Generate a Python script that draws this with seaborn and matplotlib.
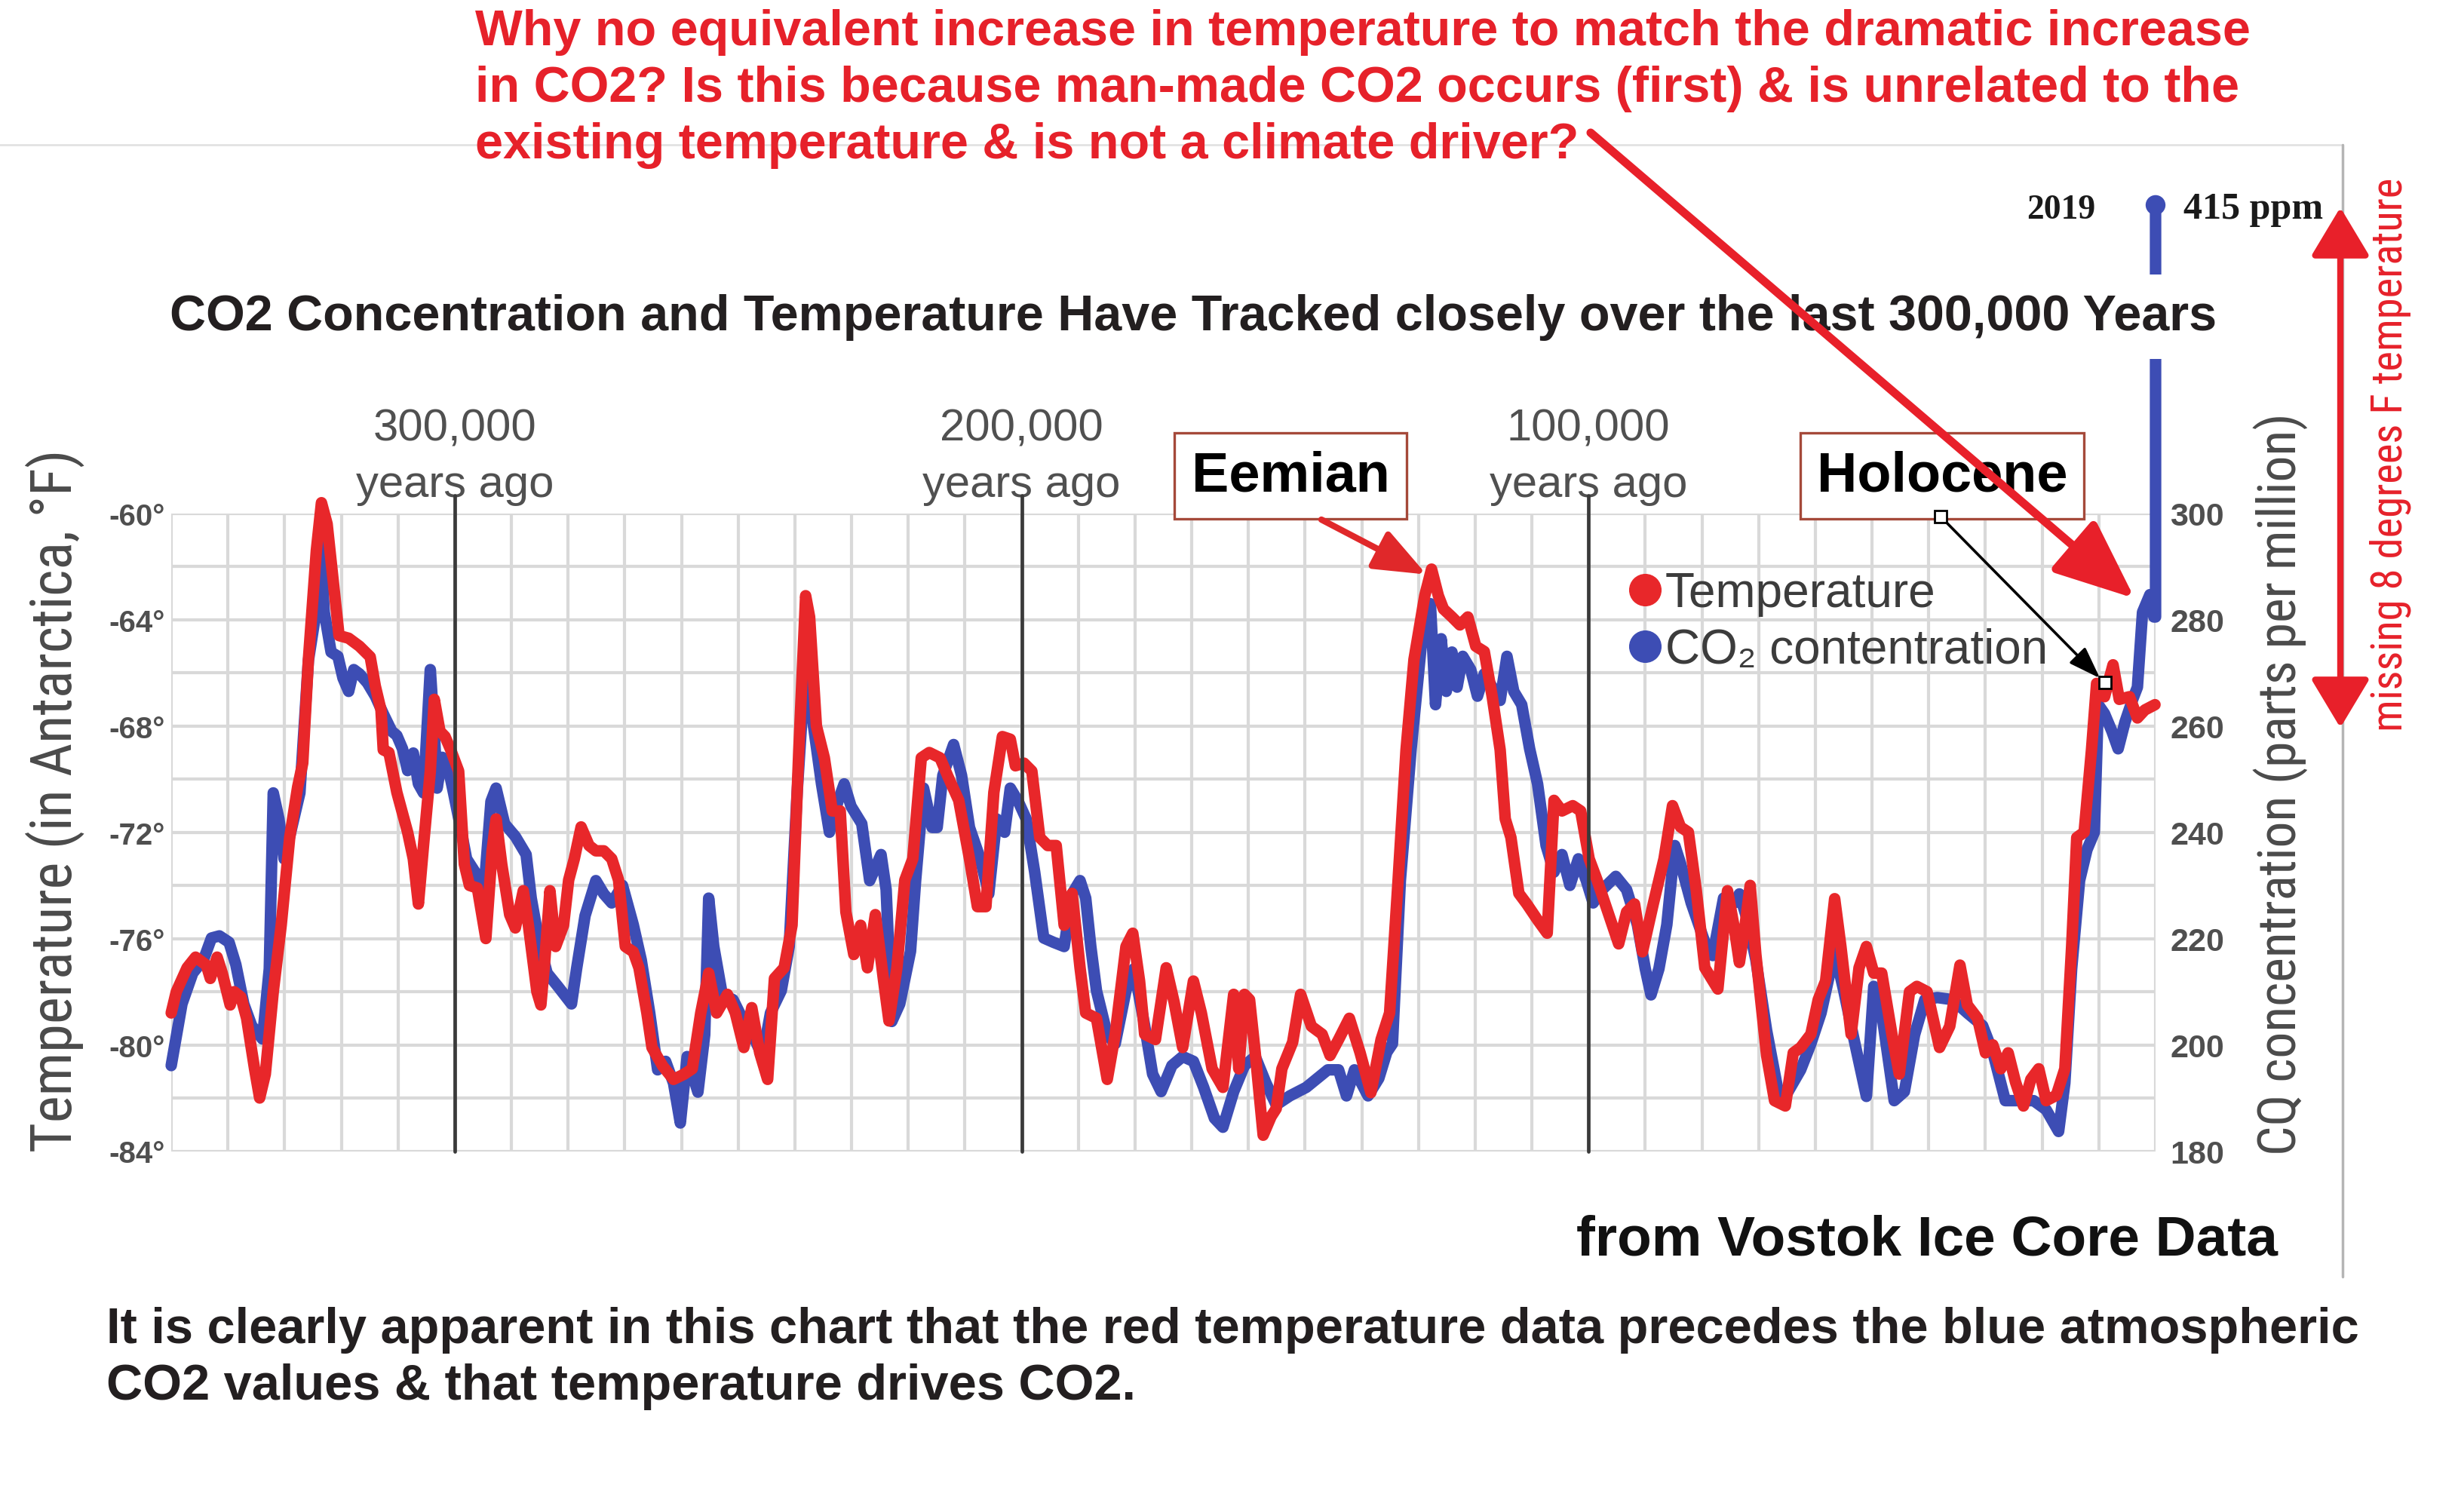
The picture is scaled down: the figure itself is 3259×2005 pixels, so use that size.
import os
import numpy as np
import pandas as pd
import matplotlib
matplotlib.use("Agg")
import matplotlib.pyplot as plt
from matplotlib import font_manager
from matplotlib.font_manager import FontProperties
from matplotlib.lines import Line2D
from matplotlib.patches import ConnectionPatch
from matplotlib.ticker import MultipleLocator
import seaborn as sns

# ---- data (ages in thousand years before present) ----
temp_age = [
    350.0, 349.1, 347.2, 345.7, 343.8, 343.1, 341.9, 341.0, 339.6, 338.9,
    337.7, 336.7, 335.3, 334.4, 333.4, 332.0, 330.6, 329.1, 327.7, 326.8,
    325.8, 324.4, 323.5, 322.5, 321.6, 320.4, 318.7, 316.8, 314.9, 314.0,
    313.0, 312.6, 311.6, 310.2, 308.3, 307.3, 306.4, 305.5, 304.3, 303.6,
    302.6, 301.7, 300.7, 299.3, 298.3, 297.4, 296.0, 294.5, 293.4, 292.7,
    291.7, 290.3, 289.3, 287.9, 287.0, 285.5, 284.8, 284.1, 283.2, 282.2,
    280.8, 279.9, 278.9, 277.7,
    276.3, 275.1, 273.7, 272.3, 271.1, 269.9, 268.5, 267.5, 266.1, 265.2,
    263.3, 261.4, 259.5, 258.1, 256.6, 255.2, 253.8, 251.9, 250.5, 249.0,
    247.6, 246.2, 244.8, 243.6, 241.9, 240.5, 239.3, 238.1, 237.4, 236.2,
    234.8, 233.4, 232.0, 231.0, 229.6, 228.4, 227.2, 225.8, 224.4, 223.4,
    222.0, 220.6, 219.2, 217.7, 216.3, 214.4, 213.0, 211.1, 209.2, 207.8,
    206.3, 204.9, 203.4, 202.0, 201.1, 199.6, 198.2, 196.8, 195.4, 193.9,
    192.5, 191.1, 189.7, 188.7, 186.8, 184.9, 183.5, 181.6, 180.4, 179.2,
    178.3, 176.4, 174.5, 173.1, 171.6, 169.7, 168.3, 166.4, 164.5, 162.6,
    161.7, 160.7, 159.8, 158.8, 157.4, 156.0, 155.1, 154.1, 152.2, 150.8,
    148.9, 147.0, 145.6, 144.1, 142.2, 140.3, 138.4, 136.6,
    135.1, 133.6, 132.2, 130.8, 128.9, 127.7, 126.5, 125.6, 124.1, 122.7,
    121.3, 119.9, 118.4, 117.0, 115.6, 114.7, 113.7, 112.3, 110.9, 109.0,
    107.3, 106.1, 104.7, 102.8, 101.4, 99.9, 98.5, 96.6, 94.7, 93.3,
    91.9, 90.5, 88.6, 86.7, 85.2, 83.8, 82.4, 81.0, 79.5, 77.2,
    75.5, 74.3, 73.4, 72.4, 71.5, 70.5, 68.6, 67.2, 65.3, 63.9,
    62.6, 60.8, 59.5, 58.2, 56.6, 55.5, 53.7, 52.3, 51.0, 49.7,
    48.3, 46.5, 45.2, 43.4, 42.1, 40.3, 38.1, 36.3, 34.5, 33.2,
    31.4, 30.0, 28.7, 27.3, 26.0, 24.7, 23.3, 22.0, 20.6, 19.3,
    17.5, 16.0, 14.8, 13.9, 12.6, 11.3, 10.4, 9.0, 7.5, 6.4,
    4.6, 3.2, 1.9, 0.1,
]
temp_f = [
    -78.8, -78.0, -77.1, -76.7, -77.0, -77.5, -76.7, -77.3, -78.5, -78.0,
    -78.2, -79.0, -80.9, -82.0, -81.1, -78.0, -75.5, -72.2, -70.3, -69.4,
    -65.5, -61.4, -59.6, -60.4, -62.2, -64.6, -64.7, -65.0, -65.4, -66.5,
    -67.4, -68.9, -69.0, -70.5, -72.0, -73.0, -74.7, -72.5, -69.7, -67.0,
    -68.2, -68.4, -68.9, -69.7, -73.2, -74.0, -74.1, -76.0, -72.7, -71.5,
    -73.2, -75.1, -75.6, -74.2, -75.5, -78.0, -78.5, -76.8, -74.2, -76.3,
    -75.5, -73.8, -73.0, -71.8,
    -72.5, -72.7, -72.7, -73.0, -73.8, -76.3, -76.5, -77.1, -78.8, -80.1,
    -80.8, -81.3, -81.1, -80.9, -78.8, -77.3, -78.8, -78.1, -78.8, -80.1,
    -78.6, -80.3, -81.3, -77.5, -77.1, -75.5, -68.9, -63.1, -63.9, -68.0,
    -69.2, -71.2, -71.2, -75.0, -76.6, -75.5, -77.1, -75.1, -77.5, -79.1,
    -77.1, -73.8, -73.0, -69.2, -69.0, -69.2, -69.9, -70.8, -73.0, -74.8,
    -74.8, -70.5, -68.4, -68.5, -69.5, -69.4, -69.7, -72.2, -72.5, -72.5,
    -75.5, -74.3, -77.1, -78.8, -79.0, -81.3, -79.6, -76.3, -75.8, -77.6,
    -79.6, -79.8, -77.1, -78.4, -80.1, -77.6, -78.8, -80.9, -81.6, -78.1,
    -80.9, -78.1, -78.3, -80.3, -83.4, -82.7, -82.4, -80.9, -79.9, -78.1,
    -79.3, -79.6, -80.4, -79.8, -79.0, -80.3, -81.8, -79.8,
    -78.8, -73.8, -68.9, -65.5, -63.1, -62.1, -63.1, -63.6, -63.9, -64.2,
    -63.9, -65.0, -65.2, -66.9, -68.9, -71.5, -72.2, -74.3, -74.7, -75.3,
    -75.8, -70.8, -71.2, -71.0, -71.2, -73.0, -73.8, -75.0, -76.2, -75.0,
    -74.7, -76.5, -74.7, -73.0, -71.0, -71.8, -72.0, -74.2, -77.1, -77.9,
    -74.2, -75.6, -76.9, -75.5, -74.0, -76.6, -80.4, -82.1, -82.3, -80.3,
    -80.1, -79.6, -78.3, -77.6, -74.5, -76.3, -79.6, -77.1, -76.3, -77.3,
    -77.3, -79.6, -81.1, -78.0, -77.8, -78.0, -80.1, -79.3, -77.0, -78.5,
    -79.0, -80.3, -80.0, -80.9, -80.3, -81.4, -82.3, -81.3, -80.9, -82.1,
    -81.9, -80.9, -76.3, -72.2, -72.0, -68.9, -66.4, -66.9, -65.7, -67.0,
    -66.9, -67.7, -67.4, -67.2,
]
co2_age = [
    350.0, 348.1, 346.2, 344.3, 342.9, 341.5, 339.8, 338.6, 337.2, 335.8,
    333.9, 332.7, 332.0, 331.0, 330.1, 329.1, 327.3, 325.8, 324.6, 323.7,
    323.0, 321.8, 320.6, 319.7, 318.7, 317.8, 316.8, 315.4, 314.0, 312.6,
    311.1, 310.2, 309.2, 308.3, 307.3, 306.4, 305.5, 304.3, 303.6, 303.1,
    302.2, 301.2, 300.2, 298.8, 297.9, 296.4, 295.0, 293.6, 292.7, 291.2,
    289.3, 287.4, 286.5, 285.1, 283.7, 281.8, 279.4,
    278.5, 277.0, 275.1, 273.7, 272.3, 270.4, 268.5, 267.1, 265.6, 264.2,
    262.8, 261.4, 260.2, 259.0, 257.1, 255.9, 255.2, 254.3, 252.8, 250.9,
    249.0, 247.1, 245.7, 244.3, 242.4, 241.0, 239.6, 238.1, 236.7, 235.3,
    233.9, 232.4, 231.3, 230.1, 228.2, 226.8, 224.8, 223.9, 222.9, 221.5,
    219.6, 218.7, 217.3, 215.8, 214.9, 213.9, 212.0, 210.6, 209.2, 207.3,
    205.8, 204.4, 203.0, 202.0, 200.6, 199.2, 197.7, 196.1, 194.4, 192.5,
    191.1, 189.7, 188.7, 187.8, 186.8, 184.9, 183.5, 181.6, 180.2, 178.3,
    176.9, 175.4, 173.5, 171.6, 169.7, 167.9, 166.0, 164.5, 162.6, 160.7,
    158.8, 156.9, 155.1, 152.7, 149.8, 146.0, 144.1, 142.7, 141.3, 138.9,
    137.0, 135.6,
    134.6, 133.2, 131.3, 129.4, 127.9, 127.0, 126.0, 125.1, 124.1, 123.2,
    122.2, 120.8, 119.6, 118.4, 117.0, 115.6, 114.4, 113.2, 111.8, 110.4,
    109.0, 107.5, 106.1, 104.7, 103.3, 101.8, 100.4, 99.2, 97.6, 95.2,
    93.3, 91.4, 90.0, 89.0, 87.6, 86.2, 84.8, 83.8, 81.9, 79.5,
    78.1, 76.2, 74.3, 73.4, 72.0, 70.5, 68.6, 66.7, 65.3,
    62.6, 60.8, 59.0, 56.6, 55.0, 53.2, 51.0, 49.7, 48.3, 46.1,
    44.3, 42.5, 40.7, 38.5, 35.8, 33.2, 30.5, 28.7, 26.5, 24.2,
    21.5, 19.3, 17.1, 16.0, 14.8, 13.4, 12.1, 10.8, 10.1, 9.0,
    7.7, 6.6, 5.4, 4.1, 3.2, 2.3, 1.0, 0.3, 0.0, 0.0,
]
co2_ppm = [
    196.1, 207.7, 213.5, 216.0, 220.1, 220.5, 219.3, 215.1, 207.7, 203.6,
    201.1, 214.3, 247.4, 242.5, 235.0, 239.2, 247.4, 272.3, 280.5, 294.6,
    281.4, 273.9, 273.1, 269.0, 266.5, 270.6, 269.8, 268.1, 265.6, 262.3,
    259.0, 258.2, 255.7, 251.6, 254.9, 249.1, 247.4, 270.6, 259.0, 248.3,
    254.1, 252.4, 247.4, 240.0, 235.0, 232.5, 226.7, 245.8, 248.3, 241.6,
    239.2, 235.8, 227.6, 219.3, 213.5, 211.0, 207.7,
    214.3, 224.3, 230.9, 228.4, 226.7, 230.0, 222.6, 216.0, 206.0, 195.3,
    196.9, 192.8, 185.3, 197.8, 191.1, 201.9, 227.6, 218.5, 209.4, 208.5,
    204.4, 201.1, 197.8, 206.0, 210.2, 218.5, 247.4, 272.3, 259.9, 249.1,
    240.0, 245.8, 249.1, 244.9, 241.6, 230.9, 235.8, 229.2, 204.4, 207.7,
    217.6, 230.9, 248.3, 240.9, 240.9, 250.7, 256.5, 250.7, 240.9, 235.0,
    228.4, 242.5, 240.0, 248.3, 245.8, 242.5, 232.5, 220.1, 219.3, 218.5,
    228.4, 230.9, 227.6, 218.5, 210.2, 201.9, 200.2, 210.2, 214.3, 203.6,
    194.5, 191.2, 196.1, 197.8, 196.9, 192.0, 186.2, 184.5, 191.2, 196.1,
    197.8, 192.8, 188.7, 190.4, 192.0, 195.3, 195.3, 190.4, 195.3, 190.4,
    193.7, 198.6,
    200.2, 230.9, 255.7, 276.4, 283.0, 264.0, 276.4, 266.5, 273.9, 267.3,
    273.1, 270.6, 265.6, 269.8, 267.3, 264.8, 273.1, 266.5, 264.0, 255.7,
    249.1, 237.5, 232.5, 235.8, 230.0, 235.0, 230.9, 226.7, 229.2, 231.7,
    229.2, 222.6, 214.3, 209.4, 214.3, 222.6, 237.5, 234.2, 226.7, 219.3,
    216.8, 227.6, 226.7, 228.4, 223.5, 216.0, 202.7, 192.0, 190.3,
    195.3, 200.2, 206.0, 217.6, 210.2, 201.1, 190.3, 211.0, 206.0, 189.5,
    191.2, 201.9, 208.5, 208.9, 208.5, 206.0, 203.6, 198.6, 189.5, 189.5,
    189.5, 187.8, 183.7, 192.8, 214.3, 230.9, 236.7, 240.0, 264.0, 262.3,
    259.0, 255.7, 260.7, 264.8, 267.3, 281.4, 284.7, 280.5, 280.5, 358.0,
]

temp_ticks = [-60, -64, -68, -72, -76, -80, -84]
co2_ticks = [300, 280, 260, 240, 220, 200, 180]
era_years = [300000, 200000, 100000]
era_labels = ["300,000", "200,000", "100,000"]
legend_labels = ["Temperature", "CO\u2082 contentration"]

title = "CO2 Concentration and Temperature Have Tracked closely over the last 300,000 Years"
question = ["Why no equivalent increase in temperature to match the dramatic increase",
            "in CO2? Is this because man-made CO2 occurs (first) & is unrelated to the",
            "existing temperature & is not a climate driver?"]
comment = ["It is clearly apparent in this chart that the red temperature data precedes the blue atmospheric",
           "CO2 values & that temperature drives CO2."]

RED = "#e8272a"
BLUE = "#3d4db4"
TXT_RED = "#e6212a"
GRAY = "#4f4f4f"

sns.set_style("white")
plt.rcParams["font.family"] = ["Liberation Sans", "DejaVu Sans"]


def narrow_font():
    files = [f.fname for f in font_manager.fontManager.ttflist]
    prefs = ["liberationsansnarrow-regular", "robotocondensed-regular",
             "dejavusanscondensed.ttf", "notosans-condensed.ttf",
             "opensans_condensed-regular", "opensans-condensedregular"]
    for p in prefs:
        for fn in files:
            if p in os.path.basename(fn).lower():
                return FontProperties(fname=fn)
    for f in font_manager.fontManager.ttflist:
        if f.stretch in ("condensed", "semi-condensed", "extra-condensed") \
                and f.style == "normal" and f.weight in (400, "normal", "regular"):
            return FontProperties(fname=f.fname)
    return FontProperties(family="DejaVu Sans")


NARROW = narrow_font()

W, H = 3259, 2006
fig = plt.figure(figsize=(W / 100, H / 100), dpi=100)
fig.patch.set_facecolor("white")


def fx(px):
    return px / W


def fy(py):
    return 1 - py / H


ax_c = fig.add_axes([fx(227), fy(1527.5), (2858 - 227) / W, (1527.5 - 681.7) / H])
ax_t = ax_c.twinx()

df_t = pd.DataFrame({"years": np.array(temp_age) * 1000, "temp": temp_f})
df_c = pd.DataFrame({"years": np.array(co2_age) * 1000, "co2": co2_ppm})

sns.lineplot(data=df_c, x="years", y="co2", ax=ax_c, color=BLUE, linewidth=11,
             sort=False, estimator=None, clip_on=False, legend=False,
             solid_joinstyle="round", solid_capstyle="round", zorder=3)
sns.scatterplot(x=df_c["years"].iloc[-1:], y=df_c["co2"].iloc[-1:], ax=ax_c,
                s=360, color=BLUE, edgecolor="none", clip_on=False, zorder=4)
sns.lineplot(data=df_t, x="years", y="temp", ax=ax_t, color=RED, linewidth=11,
             sort=False, estimator=None, clip_on=False, legend=False,
             solid_joinstyle="round", solid_capstyle="round", zorder=3)

ax_c.set_xlim(350000, 0)
ax_c.set_ylim(180, 300)
ax_t.set_ylim(-84, -60)
for a in (ax_c, ax_t):
    a.set_xlabel("")
    a.set_ylabel("")
    for s in a.spines.values():
        s.set_visible(False)

ax_c.set_xticks(np.arange(0, 350001, 10000))
ax_c.yaxis.set_minor_locator(MultipleLocator(10))
ax_c.set_yticks(co2_ticks)
ax_c.set_yticklabels([str(v) for v in co2_ticks], fontweight="bold")
ax_c.grid(True, which="both", color="#d9d9d9", linewidth=3.0)
ax_c.tick_params(axis="x", length=0, labelbottom=False)
ax_c.tick_params(axis="y", which="both", length=0, pad=14, labelsize=31,
                 labelcolor=GRAY, right=True, left=False, labelright=True, labelleft=False)

ax_t.grid(False)
ax_t.set_yticks(temp_ticks)
ax_t.set_yticklabels([f"{v}\u00b0" for v in temp_ticks], fontweight="bold")
ax_t.tick_params(axis="y", length=0, pad=6, labelsize=29, labelcolor=GRAY,
                 left=True, right=False, labelleft=True, labelright=False)
ax_t.tick_params(axis="x", length=0)

xform = ax_t.get_xaxis_transform()
for yr, lab in zip(era_years, era_labels):
    ax_t.axvline(yr, ymin=0, ymax=1.028, color="#3a3a3a", linewidth=3.4,
                 clip_on=False, zorder=5)
    ax_t.text(yr, 1.115, lab, transform=xform, ha="center", va="baseline",
              fontsize=43, color="#505050")
    ax_t.text(yr, 1.027, "years ago", transform=xform, ha="center", va="baseline",
              fontsize=43, color="#505050")

handles = [Line2D([], [], marker="o", ls="none", color=RED, markersize=30),
           Line2D([], [], marker="o", ls="none", color=BLUE, markersize=30)]
ax_t.legend(handles, legend_labels, loc="upper left",
            bbox_to_anchor=(fx(2160), fy(758)), bbox_transform=fig.transFigure,
            frameon=False, fontsize=46, labelcolor="#3c3c3c", handlelength=0.65,
            handletextpad=0.1, labelspacing=0.24, borderpad=0, borderaxespad=0)

# ---- figure texts ----
texts_q = [fig.text(fx(630), fy(60 + 75 * i), line, ha="left", va="baseline",
                    fontsize=42, fontweight="bold", color=TXT_RED, zorder=4)
           for i, line in enumerate(question)]
t_title = fig.text(fx(1582), fy(438), title, ha="center", va="baseline",
                   fontsize=41, fontweight="bold", color="#231f20", zorder=3,
                   bbox=dict(boxstyle="square,pad=0.38", fc="white", ec="none"))
texts_c = [fig.text(fx(141), fy(1781 + 75 * i), line, ha="left", va="baseline",
                    fontsize=40, fontweight="bold", color="#231f20")
           for i, line in enumerate(comment)]
t_src = fig.text(fx(3020), fy(1665), "from Vostok Ice Core Data", ha="right",
                 va="baseline", fontsize=53, fontweight="bold", color="#111111")

box = dict(boxstyle="square,pad=0.3", fc="white", ec="#a5493a", lw=2.4)
t_eem = fig.text(fx(1711), fy(632), "Eemian", ha="center", va="center",
                 fontsize=52, fontweight="bold", color="black", bbox=box, zorder=3)
t_hol = fig.text(fx(2575), fy(632), "Holocene", ha="center", va="center",
                 fontsize=52, fontweight="bold", color="black", bbox=box, zorder=3)

t_yl = fig.text(fx(73), fy(1062), "Temperature (in Antarctica, \u00b0F)", rotation=90,
                ha="center", va="center", fontproperties=NARROW, color="#4a4a4a")
t_yr = fig.text(fx(3024), fy(1040), "CQ concentration (parts per million)", rotation=90,
                ha="center", va="center", fontproperties=NARROW, color="#4a4a4a")
t_miss = fig.text(fx(3169), fy(603), "missing 8 degrees F temperature", rotation=90,
                  ha="center", va="center", fontproperties=NARROW, color=TXT_RED)

t_2019 = fig.text(fx(2733), fy(290), "2019", ha="center", va="baseline",
                  family=["Liberation Serif", "DejaVu Serif"], fontweight="bold",
                  fontsize=33, color="#1a1a1a")
t_ppm = fig.text(fx(2895), fy(290), "415 ppm", ha="left", va="baseline",
                 family=["Liberation Serif", "DejaVu Serif"], fontweight="bold",
                 fontsize=35, color="#1a1a1a")

# size text to the widths measured on the reference
renderer = fig.canvas.get_renderer()


def fit(txt, target, vertical=False):
    bb = txt.get_window_extent(renderer)
    cur = bb.height if vertical else bb.width
    size = txt.get_fontsize() * target / cur
    txt.set_fontsize(size)
    return size


s = fit(texts_q[0], 2357)
for t in texts_q[1:]:
    t.set_fontsize(s)
fit(t_title, 2718)
s = fit(texts_c[0], 2982)
for t in texts_c[1:]:
    t.set_fontsize(s)
fit(t_src, 931)
s = fit(t_hol, 333)
t_eem.set_fontsize(s)
fit(t_yl, 925, vertical=True)
fit(t_yr, 977, vertical=True)
fit(t_miss, 727, vertical=True)
fit(t_2019, 91)
fit(t_ppm, 185)

# ---- frame of the pasted chart ----
fig.add_artist(Line2D([0, fx(3106)], [fy(193), fy(193)], color="#e2e2e2", lw=2))
fig.add_artist(Line2D([fx(3106), fx(3106)], [fy(193), fy(1694)], color="#b5b5b5", lw=2.5))

# ---- arrows ----
fig.add_artist(ConnectionPatch(
    xyA=(fx(1752), fy(690)), coordsA="figure fraction",
    xyB=(128600, -62.3), coordsB="data", axesB=ax_t,
    arrowstyle="-|>,head_length=1.0,head_width=0.4", mutation_scale=42,
    color="#e0282a", lw=6, shrinkA=0, shrinkB=0, zorder=6))

fig.add_artist(ConnectionPatch(
    xyA=(fx(2573), fy(686)), coordsA="figure fraction",
    xyB=(8900, -66.4), coordsB="data", axesB=ax_t,
    arrowstyle="-|>,head_length=1.0,head_width=0.35", mutation_scale=26,
    color="black", lw=2.6, shrinkA=6, shrinkB=7, zorder=6))
for px, py in [(2573, 686), (2791, 906)]:
    fig.add_artist(Line2D([fx(px)], [fy(py)], marker="s", markersize=12,
                          markerfacecolor="white", markeredgecolor="black",
                          markeredgewidth=2.0, zorder=7))

fig.add_artist(ConnectionPatch(
    xyA=(fx(2109), fy(177)), coordsA="figure fraction",
    xyB=(3700, -63.2), coordsB="data", axesB=ax_t,
    arrowstyle="-|>,head_length=1.3,head_width=0.55", mutation_scale=50,
    color="#e8202a", lw=8, shrinkA=0, shrinkB=0, zorder=8))

fig.add_artist(ConnectionPatch(
    xyA=(fx(3103), fy(276)), coordsA="figure fraction",
    xyB=(fx(3103), fy(966)), coordsB="figure fraction",
    arrowstyle="<|-|>,head_length=1.0,head_width=0.6", mutation_scale=40,
    color="#e8202a", lw=6, shrinkA=0, shrinkB=0, zorder=8))

fig.savefig("out.png", dpi=100)
